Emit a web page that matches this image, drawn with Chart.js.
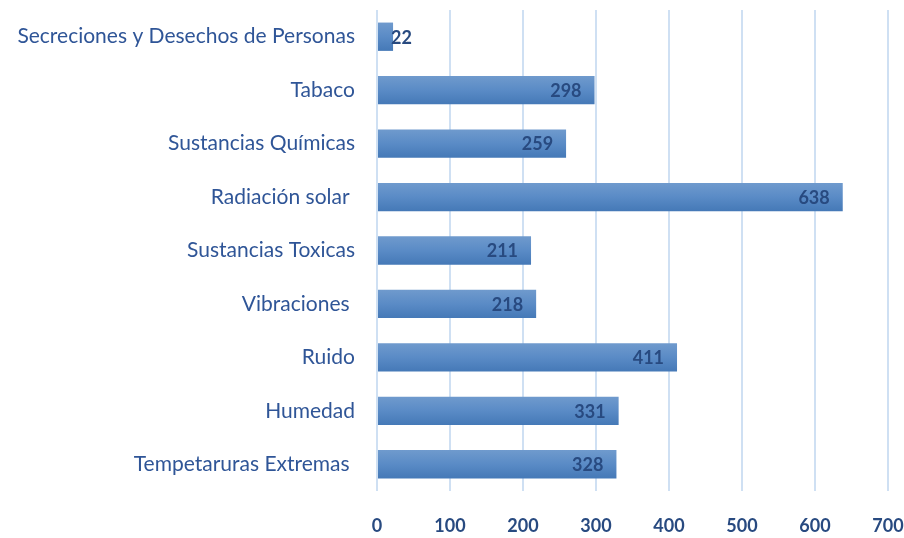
<!DOCTYPE html>
<html>
<head>
<meta charset="utf-8">
<script src="https://cdn.jsdelivr.net/npm/chart.js@4.4.1/dist/chart.umd.min.js"></script>
<style>
  html, body { margin: 0; padding: 0; background: #fff; }
  #wrap { width: 904px; height: 538px; position: relative; }
</style>
</head>
<body>
<div id="wrap"><canvas id="chart"></canvas></div>
<script>
const categories = [
    'Secreciones y Desechos de Personas',
    'Tabaco',
    'Sustancias Químicas',
    'Radiación solar ',
    'Sustancias Toxicas',
    'Vibraciones ',
    'Ruido',
    'Humedad',
    'Tempetaruras Extremas '
];
const values = [22, 298, 259, 638, 211, 218, 411, 331, 328];
const xTicks = [0, 100, 200, 300, 400, 500, 600, 700];

const BAR_HALF = 14;

// bar fill: lighter at the top, darker at the bottom
function barGradient(context) {
    const chart = context.chart;
    const y = chart.scales.y;
    if (!y || context.dataIndex === undefined) return '#5588c4';
    const cy = y.getPixelForValue(context.dataIndex);
    if (!isFinite(cy)) return '#5588c4';
    const g = chart.ctx.createLinearGradient(0, cy - BAR_HALF, 0, cy + BAR_HALF);
    g.addColorStop(0, '#6f9acd');
    g.addColorStop(0.5, '#5a8bc6');
    g.addColorStop(1, '#4579b7');
    return g;
}

// value labels at the end of each bar
const valueLabels = {
    id: 'valueLabels',
    afterDatasetsDraw(chart) {
        const ctx = chart.ctx;
        const meta = chart.getDatasetMeta(0);
        ctx.save();
        ctx.font = 'bold 18px Lato';
        ctx.fillStyle = '#284a80';
        ctx.textBaseline = 'middle';
        meta.data.forEach((bar, i) => {
            const text = String(values[i]);
            const w = ctx.measureText(text).width;
            const barLen = bar.x - bar.base;
            if (barLen < w + 12) {
                ctx.textAlign = 'left';
                ctx.fillText(text, bar.x - 2, bar.y + 1);
            } else {
                ctx.textAlign = 'right';
                ctx.fillText(text, bar.x - 13, bar.y + 1);
            }
        });
        ctx.restore();
    }
};

new Chart(document.getElementById('chart'), {
    type: 'bar',
    data: {
        labels: categories,
        datasets: [{
            data: values,
            backgroundColor: barGradient,
            borderWidth: 0,
            barPercentage: 0.53,
            categoryPercentage: 1.0
        }]
    },
    plugins: [valueLabels],
    options: {
        indexAxis: 'y',
        responsive: true,
        maintainAspectRatio: false,
        animation: false,
        layout: { padding: { top: 10, left: 0, right: 0, bottom: 0 } },
        plugins: {
            legend: { display: false },
            tooltip: { enabled: false }
        },
        scales: {
            x: {
                min: 0,
                max: 700,
                afterBuildTicks: (scale) => {
                    scale.ticks = xTicks.map(v => ({ value: v }));
                },
                afterFit: (scale) => {
                    scale.height = 47;
                    scale.paddingRight = 16;
                },
                grid: {
                    color: '#cfe0f3',
                    lineWidth: 2,
                    drawTicks: false
                },
                border: { display: false },
                ticks: {
                    padding: 24,
                    color: '#284a80',
                    font: { family: 'Lato', size: 18, weight: 'bold' }
                }
            },
            y: {
                afterFit: (scale) => {
                    scale.width = 377;
                    scale.paddingTop = 0;
                    scale.paddingBottom = 0;
                },
                grid: { display: false, drawTicks: false },
                border: { display: false },
                ticks: {
                    padding: 22,
                    color: '#2f5597',
                    font: { family: 'Lato', size: 21 }
                }
            }
        }
    }
});
</script>
</body>
</html>
